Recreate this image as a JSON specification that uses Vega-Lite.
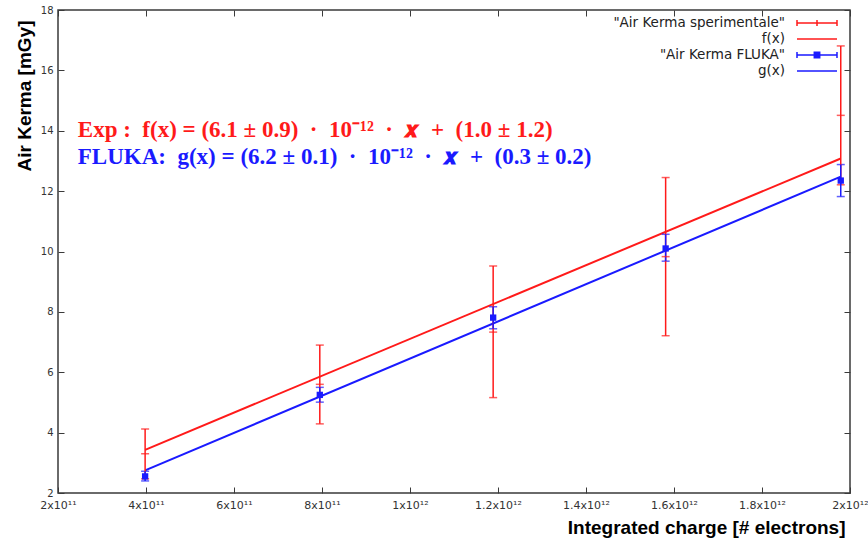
{
  "$schema": "https://vega.github.io/schema/vega-lite/v6.json",
  "width": 792,
  "height": 483,
  "autosize": {"type": "none"},
  "padding": {"left": 58, "top": 10, "right": 18, "bottom": 47},
  "background": "white",
  "config": {
    "view": {"stroke": "#3a3a3a", "strokeWidth": 1.5},
    "axis": {
      "grid": false,
      "domain": false,
      "tickSize": -6,
      "tickColor": "#3a3a3a",
      "tickWidth": 1,
      "labelFont": "DejaVu Sans",
      "labelColor": "#333333",
      "labelFontSize": 10,
      "labelFlush": false,
      "labelOverlap": false,
      "titleFont": "Liberation Sans",
      "titleFontWeight": "bold",
      "titleFontSize": 19,
      "titleColor": "#000000"
    }
  },
  "datasets": {
    "fits": [
      {"charge": 398000000000, "kerma": 3.43, "series": "f(x)"},
      {"charge": 1979000000000, "kerma": 13.08, "series": "f(x)"},
      {"charge": 398000000000, "kerma": 2.75, "series": "g(x)"},
      {"charge": 1979000000000, "kerma": 12.48, "series": "g(x)"}
    ],
    "points": [
      {"charge": 398000000000, "kerma": 3.30, "lo": 2.47, "hi": 4.12, "series": "\"Air Kerma sperimentale\""},
      {"charge": 795000000000, "kerma": 5.60, "lo": 4.29, "hi": 6.90, "series": "\"Air Kerma sperimentale\""},
      {"charge": 1189000000000, "kerma": 7.33, "lo": 5.16, "hi": 9.52, "series": "\"Air Kerma sperimentale\""},
      {"charge": 1581000000000, "kerma": 9.83, "lo": 7.21, "hi": 12.45, "series": "\"Air Kerma sperimentale\""},
      {"charge": 1979000000000, "kerma": 14.51, "lo": 12.21, "hi": 16.81, "series": "\"Air Kerma sperimentale\""},
      {"charge": 398000000000, "kerma": 2.55, "lo": 2.40, "hi": 2.72, "series": "\"Air Kerma FLUKA\""},
      {"charge": 795000000000, "kerma": 5.25, "lo": 5.01, "hi": 5.50, "series": "\"Air Kerma FLUKA\""},
      {"charge": 1189000000000, "kerma": 7.81, "lo": 7.44, "hi": 8.17, "series": "\"Air Kerma FLUKA\""},
      {"charge": 1581000000000, "kerma": 10.10, "lo": 9.68, "hi": 10.57, "series": "\"Air Kerma FLUKA\""},
      {"charge": 1979000000000, "kerma": 12.35, "lo": 11.82, "hi": 12.88, "series": "\"Air Kerma FLUKA\""}
    ],
    "noteExp": [
      {"charge": 245000000000, "kerma": 14.02, "label": "Exp :\u2002f(x) = (6.1 ± 0.9)\u2002·\u200210⁻¹²\u2002·\u2002𝒙\u2002+\u2002(1.0 ± 1.2)"}
    ],
    "noteFluka": [
      {"charge": 245000000000, "kerma": 13.13, "label": "FLUKA:\u2002g(x) = (6.2 ± 0.1)\u2002·\u200210⁻¹²\u2002·\u2002𝒙\u2002+\u2002(0.3 ± 0.2)"}
    ]
  },
  "layer": [
    {
      "data": {"name": "fits"},
      "mark": {"type": "line", "strokeWidth": 2},
      "encoding": {
        "x": {
          "field": "charge", "type": "quantitative",
          "scale": {"domain": [200000000000, 2000000000000], "nice": false, "zero": false},
          "axis": {
            "orient": "bottom",
            "title": "Integrated charge [# electrons]",
            "titleAnchor": "end",
            "titleAlign": "right",
            "titleX": 787,
            "titlePadding": 8,
            "values": [200000000000, 400000000000, 600000000000, 800000000000, 1000000000000, 1200000000000, 1400000000000, 1600000000000, 1800000000000, 2000000000000],
            "labelExpr": "datum.value < 999000000000 ? format(datum.value / 100000000000, '~g') + 'x10¹¹' : format(datum.value / 1000000000000, '~g') + 'x10¹²'",
            "labelFontSize": 11,
            "labelPadding": 12
          }
        },
        "y": {
          "field": "kerma", "type": "quantitative",
          "scale": {"domain": [2, 18], "nice": false, "zero": false},
          "axis": {
            "orient": "left",
            "title": "Air Kerma [mGy]",
            "titleAnchor": "end",
            "titleY": 10,
            "titlePadding": 6,
            "values": [2, 4, 6, 8, 10, 12, 14, 16, 18],
            "labelPadding": 11
          }
        },
        "color": {
          "field": "series", "type": "nominal",
          "scale": {
            "domain": ["\"Air Kerma sperimentale\"", "f(x)", "\"Air Kerma FLUKA\"", "g(x)"],
            "range": ["#ff1a1a", "#ff1a1a", "#1a1aff", "#1a1aff"]
          },
          "legend": {
            "title": null,
            "orient": "none",
            "legendX": 739,
            "legendY": 6,
            "padding": 0,
            "rowPadding": 2,
            "labelAlign": "right",
            "symbolOffset": 13,
            "labelOffset": -39,
            "labelFont": "DejaVu Sans",
            "labelFontSize": 13.5,
            "labelColor": "#222222",
            "labelLimit": 400,
            "symbolSize": 144,
            "symbolStrokeWidth": 1.5,
            "encode": {
              "symbols": {
                "update": {
                  "shape": {"signal": "datum.value === 'f(x)' || datum.value === 'g(x)' ? 'M-3.333,0H3.333' : (indexof(datum.value, 'FLUKA') >= 0 ? 'M-3.333,0H3.333M-3.333,-0.5V0.5M3.333,-0.5V0.5M-0.45,-0.45H0.45V0.45H-0.45Z' : 'M-3.333,0H3.333M-3.333,-0.5V0.5M3.333,-0.5V0.5M0,-0.5V0.5')"},
                  "fill": {"scale": "color", "field": "value"},
                  "stroke": {"scale": "color", "field": "value"},
                  "opacity": {"value": 1},
                  "strokeWidth": {"value": 1.5}
                }
              }
            }
          }
        }
      }
    },
    {
      "data": {"name": "points"},
      "mark": {"type": "errorbar", "ticks": true, "size": 8, "thickness": 1.5},
      "encoding": {
        "x": {"field": "charge", "type": "quantitative", "axis": null},
        "y": {"field": "lo", "type": "quantitative", "axis": null},
        "y2": {"field": "hi"},
        "color": {"field": "series", "type": "nominal"}
      }
    },
    {
      "data": {"name": "points"},
      "transform": [{"filter": "indexof(datum.series, 'sperimentale') >= 0"}],
      "mark": {"type": "tick", "orient": "horizontal", "size": 8, "thickness": 1.5, "color": "#ff1a1a"},
      "encoding": {
        "x": {"field": "charge", "type": "quantitative", "axis": null},
        "y": {"field": "kerma", "type": "quantitative", "axis": null}
      }
    },
    {
      "data": {"name": "points"},
      "transform": [{"filter": "indexof(datum.series, 'FLUKA') >= 0"}],
      "mark": {"type": "point", "shape": "square", "filled": true, "size": 40, "color": "#1a1aff", "opacity": 1},
      "encoding": {
        "x": {
          "field": "charge", "type": "quantitative",
          "axis": {"orient": "top", "labels": false, "title": null, "values": [200000000000, 400000000000, 600000000000, 800000000000, 1000000000000, 1200000000000, 1400000000000, 1600000000000, 1800000000000, 2000000000000]}
        },
        "y": {
          "field": "kerma", "type": "quantitative",
          "axis": {"orient": "right", "labels": false, "title": null, "values": [2, 4, 6, 8, 10, 12, 14, 16, 18]}
        }
      }
    },
    {
      "data": {"name": "noteExp"},
      "mark": {"type": "text", "align": "left", "baseline": "middle", "font": "Liberation Serif", "fontWeight": "bold", "fontSize": 23, "color": "#ff1a1a"},
      "encoding": {
        "x": {"field": "charge", "type": "quantitative", "axis": null},
        "y": {"field": "kerma", "type": "quantitative", "axis": null},
        "text": {"field": "label"}
      }
    },
    {
      "data": {"name": "noteFluka"},
      "mark": {"type": "text", "align": "left", "baseline": "middle", "font": "Liberation Serif", "fontWeight": "bold", "fontSize": 23, "color": "#1a1aff"},
      "encoding": {
        "x": {"field": "charge", "type": "quantitative", "axis": null},
        "y": {"field": "kerma", "type": "quantitative", "axis": null},
        "text": {"field": "label"}
      }
    }
  ],
  "resolve": {"axis": {"x": "independent", "y": "independent"}}
}
